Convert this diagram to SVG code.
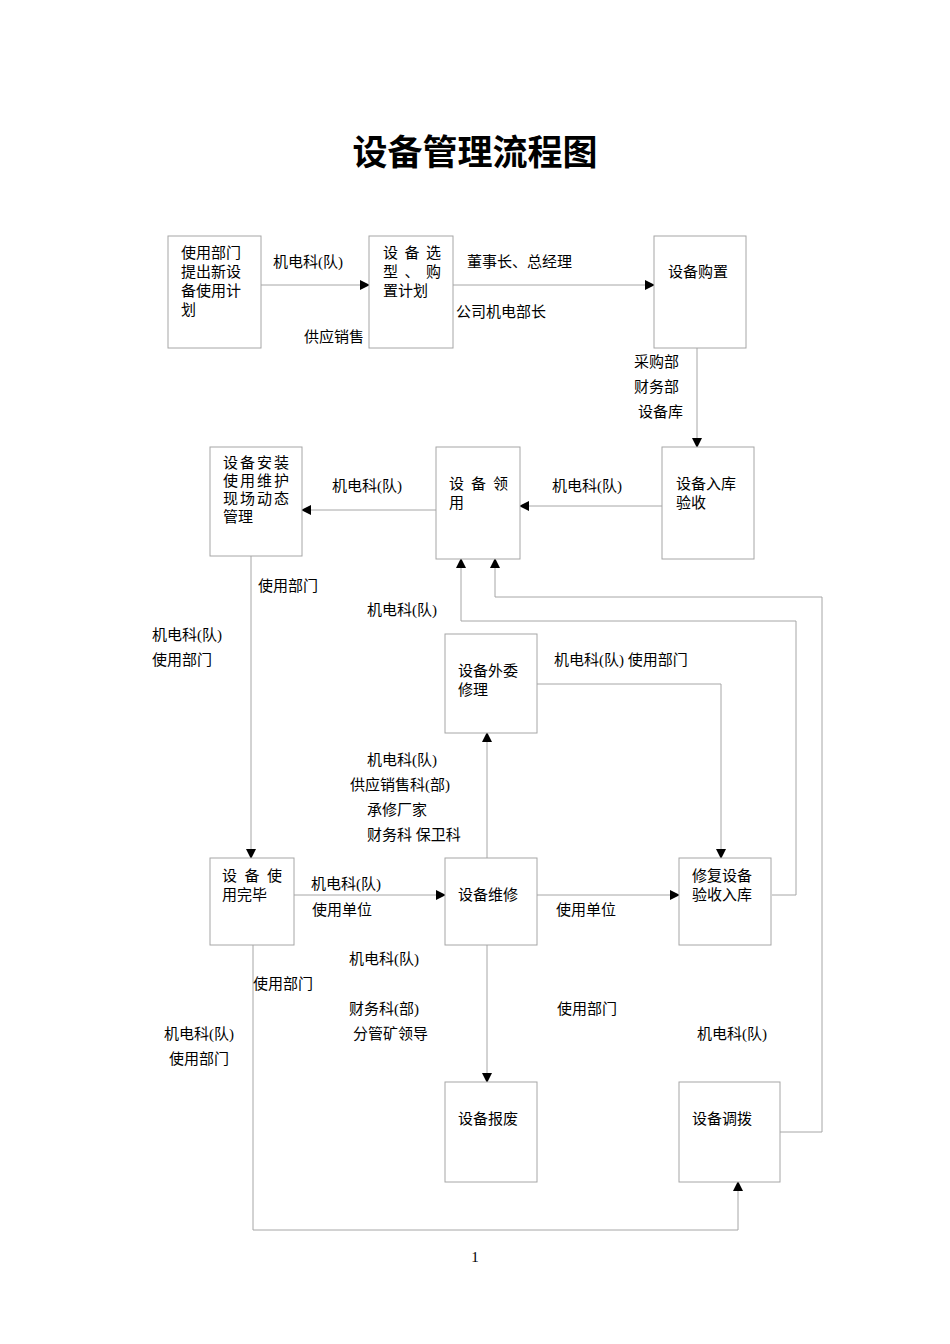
<svg xmlns="http://www.w3.org/2000/svg" width="950" height="1344" viewBox="0 0 950 1344">
<style>
.b{fill:#fff;stroke:#a6a6a6;stroke-width:1}
.c{fill:none;stroke:#a6a6a6;stroke-width:1}
text{font-family:"Liberation Serif","Noto Sans CJK SC",serif;font-size:15px;fill:#000}
.t{font-family:"Noto Sans CJK SC",sans-serif;font-size:35px;font-weight:bold}
</style>
<defs><marker id="a" markerWidth="10" markerHeight="10" refX="9" refY="5" orient="auto" markerUnits="userSpaceOnUse"><path d="M0,0 L10,5 L0,10 z" fill="#000"/></marker></defs>
<rect width="950" height="1344" fill="#fff"/>
<text class="t" x="475" y="165" text-anchor="middle">设备管理流程图</text>
<g id="connectors">
<path class="c" d="M261,285H369" marker-end="url(#a)"/>
<path class="c" d="M453,285H654" marker-end="url(#a)"/>
<path class="c" d="M697,348V447" marker-end="url(#a)"/>
<path class="c" d="M662,506H520" marker-end="url(#a)"/>
<path class="c" d="M436,510H302" marker-end="url(#a)"/>
<path class="c" d="M251,556V858" marker-end="url(#a)"/>
<path class="c" d="M294,895H445" marker-end="url(#a)"/>
<path class="c" d="M537,895H679" marker-end="url(#a)"/>
<path class="c" d="M487,858V733" marker-end="url(#a)"/>
<path class="c" d="M537,684H721V858" marker-end="url(#a)"/>
<path class="c" d="M487,945V1082" marker-end="url(#a)"/>
<path class="c" d="M253,945V1230H738V1182" marker-end="url(#a)"/>
<path class="c" d="M772,895H796V621H461V559" marker-end="url(#a)"/>
<path class="c" d="M780,1132H822V597H495V559" marker-end="url(#a)"/>
</g>
<g id="n1"><rect class="b" x="168" y="236" width="93" height="112"/><text x="181" y="258">使用部门</text><text x="181" y="277">提出新设</text><text x="181" y="296">备使用计</text><text x="181" y="315">划</text></g>
<g id="n2"><rect class="b" x="369" y="236" width="84" height="112"/><text x="383" y="258" textLength="58">设 备 选</text><text x="383" y="277" textLength="58">型 、 购</text><text x="383" y="296">置计划</text></g>
<g id="n3"><rect class="b" x="654" y="236" width="92" height="112"/><text x="668" y="277">设备购置</text></g>
<g id="n4"><rect class="b" x="210" y="447" width="92" height="109"/><text x="223" y="468" font-size="13" textLength="66">设 备 安 装</text><text x="223" y="486" font-size="13" textLength="66">使 用 维 护</text><text x="223" y="504" font-size="13" textLength="66">现 场 动 态</text><text x="223" y="522" font-size="13">管理</text></g>
<g id="n5"><rect class="b" x="436" y="447" width="84" height="112"/><text x="449" y="489" textLength="59">设 备 领</text><text x="449" y="508">用</text></g>
<g id="n6"><rect class="b" x="662" y="447" width="92" height="112"/><text x="676" y="489">设备入库</text><text x="676" y="508">验收</text></g>
<g id="n7"><rect class="b" x="445" y="634" width="92" height="99"/><text x="458" y="676">设备外委</text><text x="458" y="695">修理</text></g>
<g id="n8"><rect class="b" x="210" y="858" width="84" height="87"/><text x="222" y="881" textLength="60">设 备 使</text><text x="222" y="900">用完毕</text></g>
<g id="n9"><rect class="b" x="445" y="858" width="92" height="87"/><text x="458" y="900">设备维修</text></g>
<g id="n10"><rect class="b" x="679" y="858" width="92" height="87"/><text x="692" y="881">修复设备</text><text x="692" y="900">验收入库</text></g>
<g id="n11"><rect class="b" x="445" y="1082" width="92" height="100"/><text x="458" y="1124">设备报废</text></g>
<g id="n12"><rect class="b" x="679" y="1082" width="101" height="100"/><text x="692" y="1124">设备调拨</text></g>
<g id="labels">
<text x="273" y="267">机电科(队)</text>
<text x="304" y="342">供应销售</text>
<text x="467" y="267">董事长、总经理</text>
<text x="456" y="317">公司机电部长</text>
<text x="634" y="367">采购部</text>
<text x="634" y="392">财务部</text>
<text x="638" y="417">设备库</text>
<text x="332" y="491">机电科(队)</text>
<text x="552" y="491">机电科(队)</text>
<text x="258" y="591">使用部门</text>
<text x="367" y="615">机电科(队)</text>
<text x="152" y="640">机电科(队)</text>
<text x="152" y="665">使用部门</text>
<text x="554" y="665">机电科(队) 使用部门</text>
<text x="367" y="765">机电科(队)</text>
<text x="350" y="790">供应销售科(部)</text>
<text x="367" y="815">承修厂家</text>
<text x="367" y="840">财务科  保卫科</text>
<text x="311" y="889">机电科(队)</text>
<text x="312" y="915">使用单位</text>
<text x="556" y="915">使用单位</text>
<text x="349" y="964">机电科(队)</text>
<text x="253" y="989">使用部门</text>
<text x="349" y="1014">财务科(部)</text>
<text x="557" y="1014">使用部门</text>
<text x="353" y="1039">分管矿领导</text>
<text x="164" y="1039">机电科(队)</text>
<text x="697" y="1039">机电科(队)</text>
<text x="169" y="1064">使用部门</text>
<text x="475" y="1262" text-anchor="middle" font-size="13">1</text>
</g>
</svg>
